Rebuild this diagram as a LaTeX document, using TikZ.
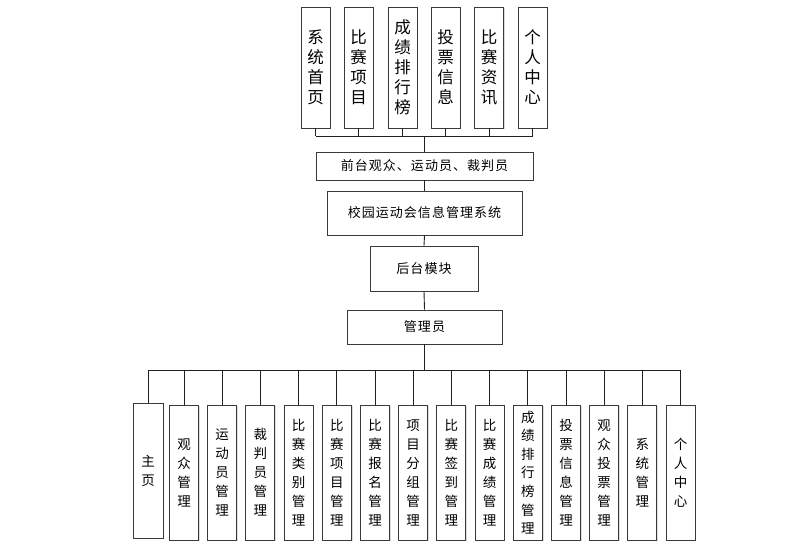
\documentclass[tikz,border=0pt]{standalone}
\usepackage{fontspec}
\usepackage{tikz}
\usetikzlibrary{shadows}
\newfontfamily\zhfont[LetterSpace=8]{Noto Sans CJK SC}
\definecolor{boxline}{HTML}{3A3A3A}
\definecolor{wireline}{HTML}{202020}
\definecolor{shadegray}{HTML}{9A9A9A}
\newcommand{\TopFont}{\zhfont\fontsize{16.5}{20}\selectfont}
\newcommand{\SubFont}{\zhfont\fontsize{13.5}{19}\selectfont}
\newcommand{\MidFont}{\zhfont\fontsize{13}{16}\selectfont}

\begin{document}
\begin{tikzpicture}[x=1pt,y=-1pt,
  box/.style={draw=boxline,fill=white,line width=0.9pt,inner sep=0pt,align=center,
    drop shadow={shadow xshift=1.2pt,shadow yshift=-1.2pt,opacity=0.35,fill=shadegray}},
  topbox/.style={box,minimum width=29pt,minimum height=121pt,font=\TopFont},
  subbox/.style={box,minimum width=29pt,minimum height=135pt,font=\SubFont},
  midbox/.style={box,font=\MidFont},
  wire/.style={draw=wireline,line width=0.9pt}]
  \useasboundingbox (0,0) rectangle (799,544);

  % front-end pages
  \node[topbox] (t1) at (315.5,67.5) {系\\统\\首\\页};
  \node[topbox] (t2) at (358.5,67.5) {比\\赛\\项\\目};
  \node[topbox] (t3) at (402.5,67.5) {成\\绩\\排\\行\\榜};
  \node[topbox] (t4) at (445.5,67.5) {投\\票\\信\\息};
  \node[topbox] (t5) at (489,67.5) {比\\赛\\资\\讯};
  \node[topbox] (t6) at (532.5,67.5) {个\\人\\中\\心};
  \coordinate (tbus) at (424.5,136);

  % middle chain
  \node[midbox,minimum width=217pt,minimum height=28pt] (front) at (424.5,166) {前台观众、运动员、裁判员};
  \node[midbox,minimum width=195pt,minimum height=44pt] (sys) at (424.5,213) {校园运动会信息管理系统};
  \node[midbox,minimum width=108pt,minimum height=45pt] (back) at (424,268.5) {后台模块};
  \node[midbox,minimum width=155pt,minimum height=34pt] (admin) at (424.5,327) {管理员};
  \coordinate (bbus) at (424.5,370);

  % back-end modules
  \node[subbox,minimum width=30pt] (m1) at (148,470.5) {主\\页};
  \node[subbox] (m2) at (184,472.5) {观\\众\\管\\理};
  \node[subbox] (m3) at (222.2,472.5) {运\\动\\员\\管\\理};
  \node[subbox] (m4) at (260.4,472.5) {裁\\判\\员\\管\\理};
  \node[subbox] (m5) at (298.6,472.5) {比\\赛\\类\\别\\管\\理};
  \node[subbox] (m6) at (336.8,472.5) {比\\赛\\项\\目\\管\\理};
  \node[subbox] (m7) at (375,472.5) {比\\赛\\报\\名\\管\\理};
  \node[subbox] (m8) at (413.2,472.5) {项\\目\\分\\组\\管\\理};
  \node[subbox] (m9) at (451.4,472.5) {比\\赛\\签\\到\\管\\理};
  \node[subbox] (m10) at (489.6,472.5) {比\\赛\\成\\绩\\管\\理};
  \node[subbox,font=\zhfont\fontsize{13.5}{18.6}\selectfont] (m11) at (527.8,472.5) {成\\绩\\排\\行\\榜\\管\\理};
  \node[subbox] (m12) at (566,472.5) {投\\票\\信\\息\\管\\理};
  \node[subbox] (m13) at (604.2,472.5) {观\\众\\投\\票\\管\\理};
  \node[subbox] (m14) at (642.4,472.5) {系\\统\\管\\理};
  \node[subbox] (m15) at (680.6,472.5) {个\\人\\中\\心};

  % connectors
  \foreach \i in {1,...,6}
    \draw[wire] (t\i.south) -- (t\i.south |- tbus);
  \draw[wire] (t1.south |- tbus) -- (t6.south |- tbus);
  \draw[wire] (front.north |- tbus) -- (front.north);
  \draw[wire] (front.south) -- (sys.north);
  \draw[wire] (sys.south) -- (back.north);
  \draw[wire] (back.south) -- (admin.north);
  \draw[wire] (admin.south) -- (bbus);
  \draw[wire] (m1.north |- bbus) -- (m15.north |- bbus);
  \foreach \i in {1,...,15}
    \draw[wire] (m\i.north |- bbus) -- (m\i.north);
\end{tikzpicture}
\end{document}
